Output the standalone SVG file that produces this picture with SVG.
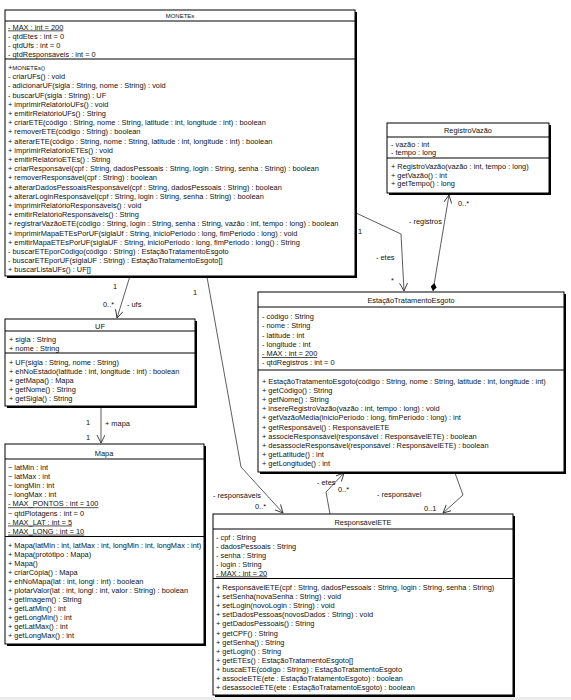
<svg xmlns="http://www.w3.org/2000/svg" width="571" height="700" viewBox="0 0 571 700">
<style>
text{font-family:"Liberation Sans",Arial,sans-serif;font-size:7.4px;fill:#111}
.c{text-anchor:middle}
.u{text-decoration:underline}
.box{fill:#fff;stroke:#000;stroke-width:1}
.sh{fill:#000}
.sep{stroke:#000;stroke-width:1}
.ln{fill:none;stroke:#333;stroke-width:0.8}
</style>
<defs>
<marker id="arr" markerWidth="10" markerHeight="10" refX="8" refY="4" orient="auto" markerUnits="userSpaceOnUse">
<path d="M0,0 L8,4 L0,8" fill="none" stroke="#333" stroke-width="0.9"/>
</marker>
<marker id="dia" markerWidth="12" markerHeight="8" refX="0" refY="3" orient="auto" markerUnits="userSpaceOnUse">
<path d="M0,3 L4,0 L8,3 L4,6 Z" fill="#000"/>
</marker>
</defs>
<rect x="0" y="0" width="571" height="700" fill="#fff"/>
<rect x="0" y="697" width="571" height="3" fill="#ececec"/>

<g id="connectors">
<polyline class="ln" points="130,276 117,318" marker-end="url(#arr)"/>
<polyline class="ln" points="101,407 101,443" marker-end="url(#arr)"/>
<polyline class="ln" points="207,277 241,467 283,513" marker-end="url(#arr)"/>
<polyline class="ln" points="330,514 326,492 344,473" marker-end="url(#arr)"/>
<polyline class="ln" points="455,473 463,495 443,513" marker-end="url(#arr)"/>
<polyline class="ln" points="356,213 401,234 404,291" marker-end="url(#arr)"/>
<polyline class="ln" points="433,291 449,195" marker-start="url(#dia)" marker-end="url(#arr)"/>
<text x="113" y="289">1</text>
<text x="103" y="307">0..*</text>
<text x="127" y="307">- ufs</text>
<text x="86" y="425">1</text>
<text x="105" y="426">+ mapa</text>
<text x="86" y="440">1</text>
<text x="193" y="295">1</text>
<text x="213" y="498">- responsáveis</text>
<text x="255" y="509">0..*</text>
<text x="317" y="485">- etes</text>
<text x="338" y="492">0..*</text>
<text x="377" y="497">- responsável</text>
<text x="424" y="511">0..1</text>
<text x="358" y="234">1</text>
<text x="376" y="260">- etes</text>
<text x="391" y="283">*</text>
<text x="409" y="224">- registros</text>
<text x="458" y="206">0..*</text>
</g>

<g id="MONETEs">
<rect class="sh" x="7" y="12" width="350" height="266"/>
<rect class="box" x="5" y="10" width="350" height="266"/>
<line class="sep" x1="5" y1="21" x2="355" y2="21"/>
<line class="sep" x1="5" y1="59" x2="355" y2="59"/>
<text class="c" x="180" y="17.5" style="font-size:6px">MONETEs</text>
<text class="u" x="8" y="29.5">- MAX : int = 200</text>
<text x="8" y="38.5">- qtdEtes : int = 0</text>
<text x="8" y="47.5">- qtdUfs : int = 0</text>
<text x="8" y="56.5">- qtdResponsaveis : int = 0</text>
<text x="8" y="70"><tspan>+</tspan><tspan style="font-size:6px">MONETEs()</tspan></text>
<text x="8" y="79.2">- criarUFs() : void</text>
<text x="8" y="88.4">- adicionarUF(sigla : String, nome : String) : void</text>
<text x="8" y="97.6">- buscarUF(sigla : String) : UF</text>
<text x="8" y="106.8">+ imprimirRelatórioUFs() : void</text>
<text x="8" y="116">+ emitirRelatórioUFs() : String</text>
<text x="8" y="125.2">+ criarETE(código : String, nome : String, latitude : int, longitude : int) : boolean</text>
<text x="8" y="134.4">+ removerETE(código : String) : boolean</text>
<text x="8" y="143.6">+ alterarETE(código : String, nome : String, latitude : int, longitude : int) : boolean</text>
<text x="8" y="152.8">+ imprimirRelatórioETEs() : void</text>
<text x="8" y="162">+ emitirRelatórioETEs() : String</text>
<text x="8" y="171.2">+ criarResponsável(cpf : String, dadosPessoais : String, login : String, senha : String) : boolean</text>
<text x="8" y="180.4">+ removerResponsável(cpf : String) : boolean</text>
<text x="8" y="189.6">+ alterarDadosPessoaisResponsável(cpf : String, dadosPessoais : String) : boolean</text>
<text x="8" y="198.8">+ alterarLoginResponsável(cpf : String, login : String, senha : String) : boolean</text>
<text x="8" y="208">+ imprimirRelatórioResponsáveis() : void</text>
<text x="8" y="217.2">+ emitirRelatórioResponsáveis() : String</text>
<text x="8" y="226.4">+ registrarVazãoETE(código : String, login : String, senha : String, vazão : int, tempo : long) : boolean</text>
<text x="8" y="235.6">+ imprimirMapaETEsPorUF(siglaUf : String, inicioPeriodo : long, fimPeriodo : long) : void</text>
<text x="8" y="244.8">+ emitirMapaETEsPorUF(siglaUF : String, inicioPeriodo : long, fimPeriodo : long() : String</text>
<text x="8" y="254">- buscarETEporCódigo(código : String) : EstaçãoTratamentoEsgoto</text>
<text x="8" y="263.2">- buscarETEporUF(siglaUF : String) : EstaçãoTratamentoEsgoto[]</text>
<text x="8" y="272.4">+ buscarListaUFs() : UF[]</text>
</g>

<g id="RegistroVazao">
<rect class="sh" x="389" y="125" width="162" height="70"/>
<rect class="box" x="387" y="123" width="162" height="70"/>
<line class="sep" x1="387" y1="137" x2="549" y2="137"/>
<line class="sep" x1="387" y1="158" x2="549" y2="158"/>
<text class="c" x="468" y="133">RegistroVazão</text>
<text x="391" y="146.5">- vazão : int</text>
<text x="391" y="155">- tempo : long</text>
<text x="391" y="169">+ RegistroVazão(vazão : int, tempo : long)</text>
<text x="391" y="177.5">+ getVazão() : int</text>
<text x="391" y="186">+ getTempo() : long</text>
</g>

<g id="EstacaoTratamentoEsgoto">
<rect class="sh" x="260" y="294" width="306" height="180"/>
<rect class="box" x="258" y="292" width="306" height="180"/>
<line class="sep" x1="258" y1="307" x2="564" y2="307"/>
<line class="sep" x1="258" y1="370" x2="564" y2="370"/>
<text class="c" x="411" y="302.5">EstaçãoTratamentoEsgoto</text>
<text x="262" y="319">- código : String</text>
<text x="262" y="328.3">- nome : String</text>
<text x="262" y="337.5">- latitude : int</text>
<text x="262" y="346.8">- longitude : int</text>
<text class="u" x="262" y="356">- MAX : int = 200</text>
<text x="262" y="365.3">- qtdRegistros : int = 0</text>
<text x="262" y="383.5">+ EstaçãoTratamentoEsgoto(código : String, nome : String, latitude : int, longitude : int)</text>
<text x="262" y="392.7">+ getCódigo() : String</text>
<text x="262" y="401.9">+ getNome() : String</text>
<text x="262" y="411.1">+ insereRegistroVazão(vazão : int, tempo : long) : void</text>
<text x="262" y="420.3">+ getVazãoMédia(inicioPeríodo : long, fimPeríodo : long) : int</text>
<text x="262" y="429.5">+ getResponsável() : ResponsávelETE</text>
<text x="262" y="438.7">+ associeResponsável(responsável : ResponsávelETE) : boolean</text>
<text x="262" y="447.9">+ desassocieResponsável(responsável : ResponsávelETE) : boolean</text>
<text x="262" y="457.1">+ getLatitude() : int</text>
<text x="262" y="466.3">+ getLongitude() : int</text>
</g>

<g id="UF">
<rect class="sh" x="7" y="321" width="190" height="87"/>
<rect class="box" x="5" y="319" width="190" height="87"/>
<line class="sep" x1="5" y1="331" x2="195" y2="331"/>
<line class="sep" x1="5" y1="353" x2="195" y2="353"/>
<text class="c" x="100" y="328.5">UF</text>
<text x="9" y="341.5">+ sigla : String</text>
<text x="9" y="350.5">+ nome : String</text>
<text x="9" y="364.5">+ UF(sigla : String, nome : String)</text>
<text x="9" y="373.5">+ ehNoEstado(latitude : int, longitude : int) : boolean</text>
<text x="9" y="382.5">+ getMapa() : Mapa</text>
<text x="9" y="391.5">+ getNome() : String</text>
<text x="9" y="400.5">+ getSigla() : String</text>
</g>

<g id="Mapa">
<rect class="sh" x="7" y="446" width="199" height="200"/>
<rect class="box" x="5" y="444" width="199" height="200"/>
<line class="sep" x1="5" y1="459" x2="204" y2="459"/>
<line class="sep" x1="5" y1="536.5" x2="204" y2="536.5"/>
<text class="c" x="104" y="455.5">Mapa</text>
<text x="8" y="470">~ latMin : int</text>
<text x="8" y="479.1">~ latMax : int</text>
<text x="8" y="488.2">~ longMin : int</text>
<text x="8" y="497.3">~ longMax : int</text>
<text class="u" x="8" y="506.4">- MAX_PONTOS : int = 100</text>
<text x="8" y="515.5">~ qtdPlotagens : int = 0</text>
<text class="u" x="8" y="524.6">- MAX_LAT : int = 5</text>
<text class="u" x="8" y="533.7">- MAX_LONG : int = 10</text>
<text x="8" y="547.5">+ Mapa(latMin : int, latMax : int, longMin : int, longMax : int)</text>
<text x="8" y="556.5">+ Mapa(protótipo : Mapa)</text>
<text x="8" y="565.5">+ Mapa()</text>
<text x="8" y="574.5">+ criarCópia() : Mapa</text>
<text x="8" y="583.5">+ ehNoMapa(lat : int, longi : int) : boolean</text>
<text x="8" y="592.5">+ plotarValor(lat : int, longi : int, valor : String) : boolean</text>
<text x="8" y="601.5">+ getImagem() : String</text>
<text x="8" y="610.5">+ getLatMin() : int</text>
<text x="8" y="619.5">+ getLongMin() : int</text>
<text x="8" y="628.5">+ getLatMax() : int</text>
<text x="8" y="637.5">+ getLongMax() : int</text>
</g>

<g id="ResponsavelETE">
<rect class="sh" x="215" y="516" width="300" height="181"/>
<rect class="box" x="213" y="514" width="300" height="181"/>
<line class="sep" x1="213" y1="529" x2="513" y2="529"/>
<line class="sep" x1="213" y1="578.5" x2="513" y2="578.5"/>
<text class="c" x="363" y="525">ResponsávelETE</text>
<text x="216" y="539.5">- cpf : String</text>
<text x="216" y="548.5">- dadosPessoais : String</text>
<text x="216" y="557.5">- senha : String</text>
<text x="216" y="566.5">- login : String</text>
<text class="u" x="216" y="575.5">- MAX : int = 20</text>
<text x="216" y="590">+ ResponsávelETE(cpf : String, dadosPessoais : String, login : String, senha : String)</text>
<text x="216" y="599.1">+ setSenha(novaSenha : String) : void</text>
<text x="216" y="608.2">+ setLogin(novoLogin : String) : void</text>
<text x="216" y="617.3">+ setDadosPessoas(novosDados : String) : void</text>
<text x="216" y="626.4">+ getDadosPessoais() : String</text>
<text x="216" y="635.5">+ getCPF() : String</text>
<text x="216" y="644.6">+ getSenha() : String</text>
<text x="216" y="653.7">+ getLogin() : String</text>
<text x="216" y="662.8">+ getETEs() : EstaçãoTratamentoEsgoto[]</text>
<text x="216" y="671.9">+ buscaETE(código : String) : EstaçãoTratamentoEsgoto</text>
<text x="216" y="681">+ associeETE(ete : EstaçãoTratamentoEsgoto) : boolean</text>
<text x="216" y="690.1">+ desassocieETE(ete : EstaçãoTratamentoEsgoto) : boolean</text>
</g>
</svg>
